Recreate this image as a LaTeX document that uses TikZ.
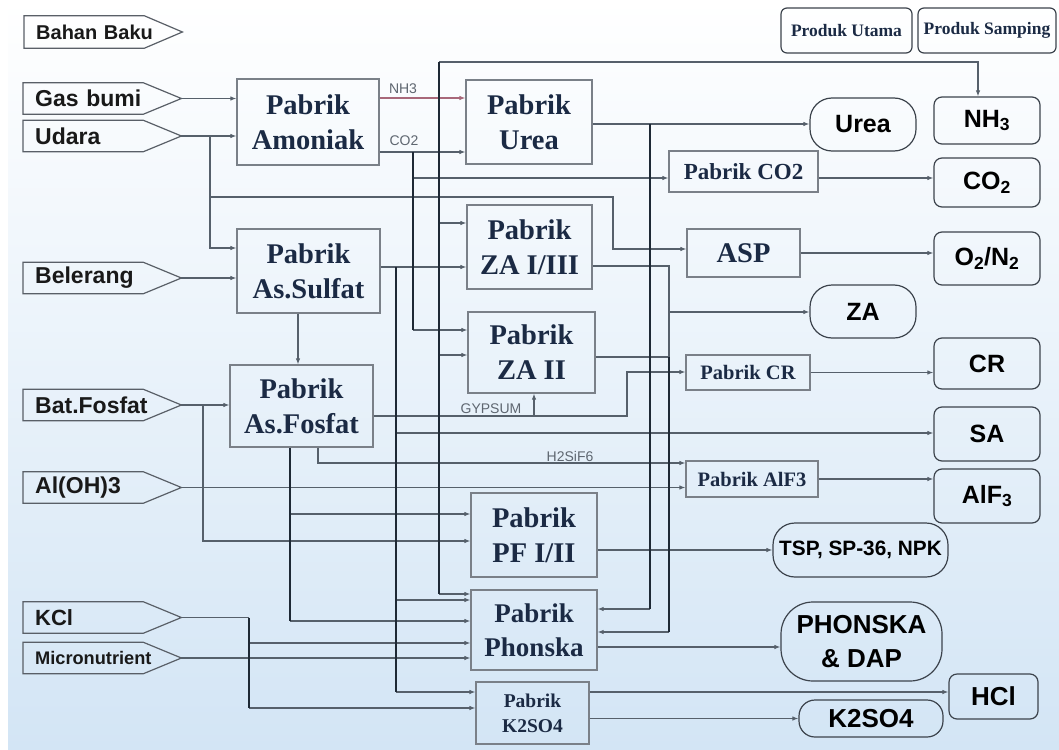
\documentclass[tikz,border=0pt]{standalone}
\usepackage{fontspec}
\setmainfont{Liberation Serif}
\setsansfont{Liberation Sans}
\usetikzlibrary{arrows.meta,calc}
\definecolor{navy}{HTML}{1B2A44}
\definecolor{pborder}{HTML}{7A8088}
\definecolor{oborder}{HTML}{3C434C}
\definecolor{lineg}{HTML}{56606B}
\definecolor{busc}{HTML}{1E2935}
\definecolor{nhc}{HTML}{A8687A}
\definecolor{lblc}{HTML}{5E6670}
\definecolor{bgm}{HTML}{E9F2FA}
\definecolor{bgb}{HTML}{D3E5F5}
\begin{document}
\begin{tikzpicture}[x=1pt,y=-1pt,
 proc/.style={draw=pborder, line width=1.2pt, inner sep=0pt, align=center, text=navy, font=\bfseries\fontsize{28.5}{35}\selectfont},
 outr/.style={draw=oborder, line width=1.2pt, rounded corners=8pt, inner sep=0pt, align=center, text=black, font=\sffamily\bfseries\fontsize{25}{30}\selectfont},
 inp/.style={minimum width=158pt, minimum height=31pt, inner xsep=12pt, inner ysep=0pt, text width=134pt, align=left, anchor=west, text=black!90, font=\sffamily\bfseries\fontsize{23}{24}\selectfont},
 inb/.style={draw=oborder!85!white, line width=1.2pt},
 ln/.style={draw=lineg, line width=1.1pt},
 arr/.style={ln, -{Latex[length=6pt,width=4.5pt]}},
 bus/.style={draw=busc, line width=1.8pt},
 lbl/.style={inner sep=0pt, text=lblc, font=\sffamily\fontsize{14}{14}\selectfont},
 leg/.style={draw=oborder, line width=1.2pt, rounded corners=6pt, inner sep=0pt, text=navy, font=\bfseries\fontsize{17.5}{20}\selectfont}
]
\useasboundingbox (0,0) rectangle (1059,749);
\fill[white] (0,0) rectangle (1059,749);
\shade[top color=white, middle color=bgm, bottom color=bgb] (8,0) rectangle (1059,749);

% ---------- input (raw material) nodes
\node[inp, font=\sffamily\bfseries\fontsize{20}{21}\selectfont, minimum height=32pt] (bb) at (24,32) {Bahan Baku};
\node[inp] (gas) at (23,98.5) {Gas bumi};
\node[inp] (uda) at (23,136) {Udara};
\node[inp] (bel) at (23,278) {Belerang};
\node[inp] (bat) at (23,405) {Bat.Fosfat};
\node[inp] (alo) at (23,487.5) {Al(OH)3};
\node[inp, font=\sffamily\bfseries\fontsize{22}{23}\selectfont] (kcl) at (23,617.5) {KCl};
\node[inp, font=\sffamily\bfseries\fontsize{18.2}{19}\selectfont] (mic) at (23,658) {Micronutrient};
\foreach \n in {bb,gas,uda,bel,bat,alo,kcl,mic}
  \draw[inb] (\n.north west) -- ([xshift=-38pt]\n.north east) -- (\n.east) -- ([xshift=-38pt]\n.south east) -- (\n.south west) -- cycle;

% ---------- legend
\node[leg, minimum width=131pt, minimum height=45pt] (legU) at (846.5,30.5) {Produk Utama};
\node[leg, minimum width=138pt, minimum height=45pt] (legS) at (987,30.5) {Produk Samping};

% ---------- process plants
\node[proc, minimum width=142pt, minimum height=86pt] (amon) at (308,122) {Pabrik\\Amoniak};
\node[proc, minimum width=126pt, minimum height=84pt] (ureaP) at (529,122) {Pabrik\\Urea};
\node[proc, minimum width=125pt, minimum height=84pt] (za13) at (529.5,247) {Pabrik\\ZA I/III};
\node[proc, minimum width=127pt, minimum height=81pt] (za2) at (531.5,352.5) {Pabrik\\ZA II};
\node[proc, minimum width=143pt, minimum height=84pt] (sulf) at (308.5,271) {Pabrik\\As.Sulfat};
\node[proc, minimum width=143pt, minimum height=82pt] (fosf) at (301.5,406) {Pabrik\\As.Fosfat};
\node[proc, minimum width=126pt, minimum height=84pt] (pf) at (534,535) {Pabrik\\PF I/II};
\node[proc, minimum width=126pt, minimum height=80pt, font=\bfseries\fontsize{27}{34}\selectfont] (phon) at (534,630) {Pabrik\\Phonska};
\node[proc, minimum width=113pt, minimum height=62pt, font=\bfseries\fontsize{19.5}{25}\selectfont] (k2p) at (532.5,713) {Pabrik\\K2SO4};
\node[proc, minimum width=149pt, minimum height=41pt, font=\bfseries\fontsize{23}{26}\selectfont] (co2p) at (743.5,171.5) {Pabrik CO2};
\node[proc, minimum width=113pt, minimum height=48pt] (asp) at (743.5,253) {ASP};
\node[proc, minimum width=124pt, minimum height=35pt, font=\bfseries\fontsize{20.5}{24}\selectfont] (crp) at (748,372.5) {Pabrik CR};
\node[proc, minimum width=132pt, minimum height=36pt, font=\bfseries\fontsize{20.5}{24}\selectfont] (alfp) at (752,479) {Pabrik AlF3};

% ---------- products
\node[outr, rounded corners=22pt, minimum width=106pt, minimum height=53pt] (ureaO) at (863,124.5) {Urea};
\node[outr, rounded corners=22pt, minimum width=106pt, minimum height=53pt] (zaO) at (863,311.5) {ZA};
\node[outr, rounded corners=22pt, minimum width=175pt, minimum height=54pt, font=\sffamily\bfseries\fontsize{20.8}{24}\selectfont] (tspO) at (860.5,550) {TSP, SP-36, NPK};
\node[outr, rounded corners=32pt, minimum width=161pt, minimum height=79pt, font=\sffamily\bfseries\fontsize{26}{34}\selectfont] (phdO) at (861.5,641.5) {PHONSKA\\\& DAP};
\node[outr, rounded corners=16pt, minimum width=144pt, minimum height=37pt, font=\sffamily\bfseries\fontsize{26}{30}\selectfont] (k2O) at (871,718.5) {K2SO4};
\node[outr, minimum width=106pt, minimum height=47pt] (nh3O) at (987,120.5) {NH\textsubscript{3}};
\node[outr, minimum width=106pt, minimum height=49pt] (co2O) at (987,182.5) {CO\textsubscript{2}};
\node[outr, minimum width=106pt, minimum height=53pt] (o2O) at (987,258.5) {O\textsubscript{2}/N\textsubscript{2}};
\node[outr, minimum width=106pt, minimum height=51pt] (crO) at (987,363.5) {CR};
\node[outr, minimum width=106pt, minimum height=54pt] (saO) at (987,434) {SA};
\node[outr, minimum width=106pt, minimum height=54pt] (alfO) at (987,496) {AlF\textsubscript{3}};
\node[outr, minimum width=89pt, minimum height=45pt, font=\sffamily\bfseries\fontsize{26}{30}\selectfont] (hclO) at (993.5,696.5) {HCl};

% ---------- junction coordinates
\coordinate (u0) at (210,136);
\coordinate (u1) at (210,197);
\coordinate (u2) at (210,248);
\coordinate (a1) at (613,197);
\coordinate (a2) at (613,249);
\coordinate (n0) at (439,98);
\coordinate (n1) at (439,62);
\coordinate (n2) at (978,62);
\coordinate (n3) at (439,223);
\coordinate (n4) at (439,355);
\coordinate (n5) at (439,594);
\coordinate (c0) at (413,152);
\coordinate (c1) at (413,178);
\coordinate (c2) at (413,330);
\coordinate (s0) at (396,267);
\coordinate (s1) at (396,433);
\coordinate (s2) at (396,600);
\coordinate (s3) at (396,692);
\coordinate (sf) at (298,340);
\coordinate (b0) at (203,405);
\coordinate (b1) at (203,541);
\coordinate (g1) at (534,416);
\coordinate (g2) at (627,416);
\coordinate (g3) at (627,372);
\coordinate (h0) at (318,463);
\coordinate (f1) at (290,514);
\coordinate (f2) at (290,621);
\coordinate (e0) at (650,124);
\coordinate (e1) at (650,609);
\coordinate (z0) at (669,266);
\coordinate (z1) at (669,312);
\coordinate (z2) at (669,357);
\coordinate (z3) at (669,632);
\coordinate (p0) at (0,647);
\coordinate (k0) at (0,692);
\coordinate (k1) at (249,617.5);
\coordinate (k2) at (249,643);
\coordinate (k3) at (249,708);

% ---------- raw material feeds
\draw[arr] (gas.east) -- (gas.east -| amon.west);
\draw[arr] (uda.east) -- (uda.east -| amon.west);
\draw[arr] (u0) -- (u2) -- (u2 -| sulf.west);
\draw[arr] (u1) -- (a1) -- (a2) -- (a2 -| asp.west);
\draw[arr] (bel.east) -- (bel.east -| sulf.west);
\draw[arr] (bat.east) -- (bat.east -| fosf.west);
\draw[arr] (b0) -- (b1) -- (b1 -| pf.west);
\draw[arr] (alo.east) -- (alo.east -| alfp.west);
\draw[ln] (kcl.east) -- (k1);
\draw[arr] (k2) -- (k2 -| phon.west);
\draw[arr] (k3) -- (k3 -| k2p.west);
\draw[arr] (mic.east) -- (mic.east -| phon.west);

% ---------- ammonia
\draw[arr, draw=nhc] (amon.east |- n0) -- (n0 -| ureaP.west);
\node[lbl] (lnh3) at (403,89) {NH3};
\draw[arr] (n1) -- (n2) -- (n2 |- nh3O.north);
\draw[arr] (n3) -- (n3 -| za13.west);
\draw[arr] (n4) -- (n4 -| za2.west);
\draw[arr] (n5) -- (n5 -| phon.west);

% ---------- CO2
\draw[arr] (amon.east |- c0) -- (c0 -| ureaP.west);
\node[lbl] (lco2) at (404,141) {CO2};
\draw[arr] (c1) -- (c1 -| co2p.west);
\draw[arr] (c2) -- (c2 -| za2.west);

% ---------- sulfuric acid
\draw[arr] (sulf.east |- s0) -- (s0 -| za13.west);
\draw[arr] (s1) -- (s1 -| saO.west);
\draw[arr] (s2) -- (s2 -| phon.west);
\draw[arr] (s3) -- (s3 -| k2p.west);
\draw[arr] (sulf.south -| sf) -- (fosf.north -| sf);

% ---------- phosphoric acid plant outputs
\draw[arr] (fosf.east |- g1) -- (g2) -- (g3) -- (g3 -| crp.west);
\draw[arr] (g1) -- (g1 |- za2.south);
\node[lbl] (lgyp) at (491,409) {GYPSUM};
\draw[arr] (fosf.south -| h0) -- (h0) -- (h0 -| alfp.west);
\node[lbl] (lh2) at (570,456) {H2SiF6};
\draw[arr] (f1) -- (f1 -| pf.west);
\draw[arr] (f2) -- (f2 -| phon.west);

% ---------- urea / ZA
\draw[arr] (ureaP.east |- e0) -- (e0 -| ureaO.west);
\draw[arr] (e1) -- (e1 -| phon.east);
\draw[ln] (za13.east |- z0) -- (z0) -- (z2);
\draw[ln] (za2.east |- z2) -- (z2);
\draw[arr] (z1) -- (z1 -| zaO.west);
\draw[arr] (z3) -- (z3 -| phon.east);

% ---------- products
\draw[arr] (co2p.east |- c1) -- (c1 -| co2O.west);
\draw[arr] (asp.east) -- (asp.east -| o2O.west);
\draw[arr] (crp.east) -- (crp.east -| crO.west);
\draw[arr] (alfp.east) -- (alfp.east -| alfO.west);
\draw[arr] (pf.east |- tspO.west) -- (tspO.west);
\draw[arr] (phon.east |- p0) -- (phdO.west |- p0);
\draw[arr] (k2p.east |- k0) -- (hclO.west |- k0);
\draw[arr] (k2p.east |- k2O.west) -- (k2O.west);

% ---------- vertical buses
\draw[bus] (n1) -- (n5);
\draw[bus] (c0) -- (c2);
\draw[bus] (s0) -- (s3);
\draw[bus] (fosf.south -| f1) -- (f2);
\draw[bus] (e0) -- (e1);
\draw[bus] (z2) -- (z3);
\draw[bus] (k1) -- (k3);
\end{tikzpicture}
\end{document}
